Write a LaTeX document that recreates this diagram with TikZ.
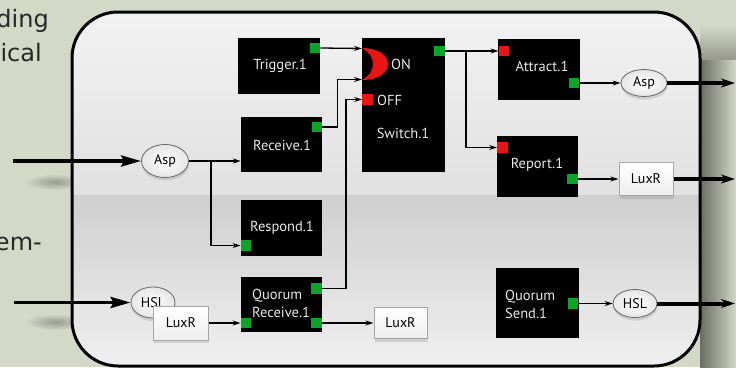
\documentclass[tikz,border=0pt]{standalone}
\usepackage{fontspec}
\setmainfont{PT Sans}
\newfontfamily\slidefont{DejaVu Sans}
\usetikzlibrary{arrows.meta,shapes.geometric,shadows}
\definecolor{bgc}{RGB}{212,216,199}
\definecolor{portg}{RGB}{10,165,40}
\definecolor{portr}{RGB}{235,20,20}
\definecolor{ltxt}{RGB}{232,232,232}
\definecolor{slidetxt}{RGB}{40,40,40}
\tikzset{
  blockbox/.style={fill=black,draw=none,inner sep=0pt},
  blocktext/.style={text=ltxt,font=\fontsize{14.5}{18}\selectfont,inner sep=0pt},
  gport/.style={fill=portg,draw=none,minimum size=10.5pt,inner sep=0pt},
  rport/.style={fill=portr,draw=none,minimum size=10.5pt,inner sep=0pt},
  sig/.style={ellipse,draw=black!60,line width=0.8pt,inner color=white,outer color=black!10,
    inner sep=0pt,font=\fontsize{14}{16}\selectfont,
    drop shadow={shadow xshift=0.5pt,shadow yshift=-3pt,opacity=0.25}},
  prot/.style={rectangle,draw=black!35,line width=1pt,top color=white,bottom color=black!7,
    inner sep=0pt,font=\fontsize{14}{16}\selectfont,
    drop shadow={shadow xshift=0.5pt,shadow yshift=-3pt,opacity=0.25}},
  wire/.style={line width=1.3pt,-{Stealth[length=8pt,width=5pt]}},
  inarrow/.style={line width=3.5pt,-{Stealth[length=20pt,width=11pt,inset=3pt]}},
  outarrow/.style={line width=4pt,-{Stealth[length=14pt,width=9pt]}},
  slide/.style={font=\slidefont\fontsize{24}{28}\selectfont,text=slidetxt,inner sep=0pt}
}
\begin{document}
\begin{tikzpicture}[x=1pt,y=-1pt]
\useasboundingbox (0,0) rectangle (736,367);
\clip (0,0) rectangle (736,367);
% background
\fill[bgc] (0,0) rectangle (736,367);
\shade[top color=bgc,bottom color=black!30!bgc] (700,25) rectangle (736,60);
\shade[left color=black!50!bgc,right color=bgc] (700,60) rectangle (736,367);
\shade[inner color=black!28!bgc,outer color=bgc] (55,182) ellipse [x radius=30,y radius=8];
\shade[inner color=black!28!bgc,outer color=bgc] (55,322) ellipse [x radius=30,y radius=8];
% slide text fragments
\node[slide,anchor=base east] (t1) at (49,27) {ding};
\node[slide,anchor=base east] (t2) at (42,61) {ical};
\node[slide,anchor=base east] (t3) at (42,250) {em-};
% main box
\begin{scope}
  \clip[rounded corners=46pt] (72,12) rectangle (700,366);
  \shade[top color=black!5,bottom color=black!12] (72,12) rectangle (700,195);
  \shade[top color=black!19,bottom color=black!6] (72,195) rectangle (700,366);
\end{scope}
\draw[line width=3pt,rounded corners=46pt] (72,12) rectangle (700,366);

% blocks
\node[blockbox,minimum width=82pt,minimum height=56pt] (trig) at (279,66) {};
\node[blockbox,minimum width=81pt,minimum height=55pt] (recv) at (281.5,144.5) {};
\node[blockbox,minimum width=83pt,minimum height=134pt] (sw) at (403.5,105) {};
\node[blockbox,minimum width=81pt,minimum height=56pt] (resp) at (281.5,228) {};
\node[blockbox,minimum width=81pt,minimum height=55pt] (qr) at (281.5,304.5) {};
\node[blockbox,minimum width=82pt,minimum height=61pt] (att) at (539,69.5) {};
\node[blockbox,minimum width=81pt,minimum height=61pt] (rep) at (537.5,166.5) {};
\node[blockbox,minimum width=83pt,minimum height=70pt] (qs) at (537.5,303) {};

% block texts
\node[blocktext] (trigT) at (280,66) {Trigger.1};
\node[blocktext] (recvT) at (282,145) {Receive.1};
\node[blocktext] (respT) at (282,228) {Respond.1};
\node[blocktext,align=left,anchor=west] (qrT) at (252,303) {Quorum\\Receive.1};
\node[blocktext] (attT) at (542,66) {Attract.1};
\node[blocktext] (repT) at (537,165) {Report.1};
\node[blocktext,align=left,anchor=west] (qsT) at (505,304) {Quorum\\Send.1};
\node[blocktext] (swT) at (403,133) {Switch.1};
\node[blocktext,anchor=west] (onT) at (391,64) {ON};
\node[blocktext,anchor=west] (offT) at (377,100) {OFF};

% ON crescent
\fill[portr] (362,48) .. controls (378,48) and (388,55) .. (388,64)
  .. controls (388,73) and (378,80) .. (362,80)
  .. controls (369,76) and (373,71) .. (373,64)
  .. controls (373,57) and (369,52) .. (362,48) -- cycle;
\coordinate (onA) at (362,48.5);
\coordinate (onB) at (362,79.5);

% ports
\node[gport] (trigO) at (315,48) {};
\node[gport] (recvO) at (317,127) {};
\node[gport] (respI) at (246,245.5) {};
\node[gport] (qrTop) at (316.5,288.5) {};
\node[gport] (qrI) at (246,323) {};
\node[gport] (qrO) at (316.5,323) {};
\node[gport] (swO) at (439.5,51) {};
\node[rport] (off) at (367.5,99.5) {};
\node[rport] (attI) at (504,51) {};
\node[gport] (attO) at (574,83) {};
\node[rport] (repI) at (502.5,147.5) {};
\node[gport] (repO) at (572.5,179) {};
\node[gport] (qsO) at (573,303.5) {};

% signals and proteins
\node[sig,minimum width=47pt,minimum height=33pt] (aspIn) at (165,161) {Asp};
\node[sig,minimum width=46pt,minimum height=27pt] (aspOut) at (644,83) {Asp};
\node[sig,minimum width=44pt,minimum height=31pt] (hslIn) at (153,302.5) {HSL};
\node[sig,minimum width=44pt,minimum height=28pt] (hslOut) at (635,303.5) {HSL};
\node[prot,minimum width=55pt,minimum height=34pt] (luxIn) at (181,323) {LuxR};
\node[prot,minimum width=53pt,minimum height=31pt] (luxMid) at (400.5,323) {LuxR};
\node[prot,minimum width=54pt,minimum height=33pt] (luxOut) at (646,179) {LuxR};

% free ends
\coordinate (inA) at (13,161);
\coordinate (inH) at (14,302.5);
\coordinate (outA) at (735,83);
\coordinate (outL) at (735,179);
\coordinate (outH) at (735,303.5);

% input arrows
\draw[inarrow] (inA) -- (aspIn.west);
\draw[inarrow] (inH) -- (hslIn.west);

% internal wires
\draw[wire] (aspIn.east) -- (recv.west |- aspIn.east);
\draw[wire] (aspIn.east) -- ++(22,0) |- (respI.west);
\draw[wire] (luxIn.east) -- (qrI.west);
\draw[wire] (qrO.east) -- (luxMid.west);
\draw[wire] (trigO.east) -- (onA);
\draw[wire] (recvO.east) -- ++(15,0) |- (onB);
\draw[wire] (qrTop.east) -- ++(24,0) |- (off.west);
\draw[wire] (swO.east) -- (attI.west);
\draw[wire] (swO.east) -- ++(21,0) |- (repI.west);
\draw[wire] (attO.east) -- (aspOut.west);
\draw[wire] (repO.east) -- (luxOut.west);
\draw[wire] (qsO.east) -- (hslOut.west);

% output arrows
\draw[outarrow] (aspOut.east) -- (outA);
\draw[outarrow] (luxOut.east) -- (outL);
\draw[outarrow] (hslOut.east) -- (outH);
\end{tikzpicture}
\end{document}
